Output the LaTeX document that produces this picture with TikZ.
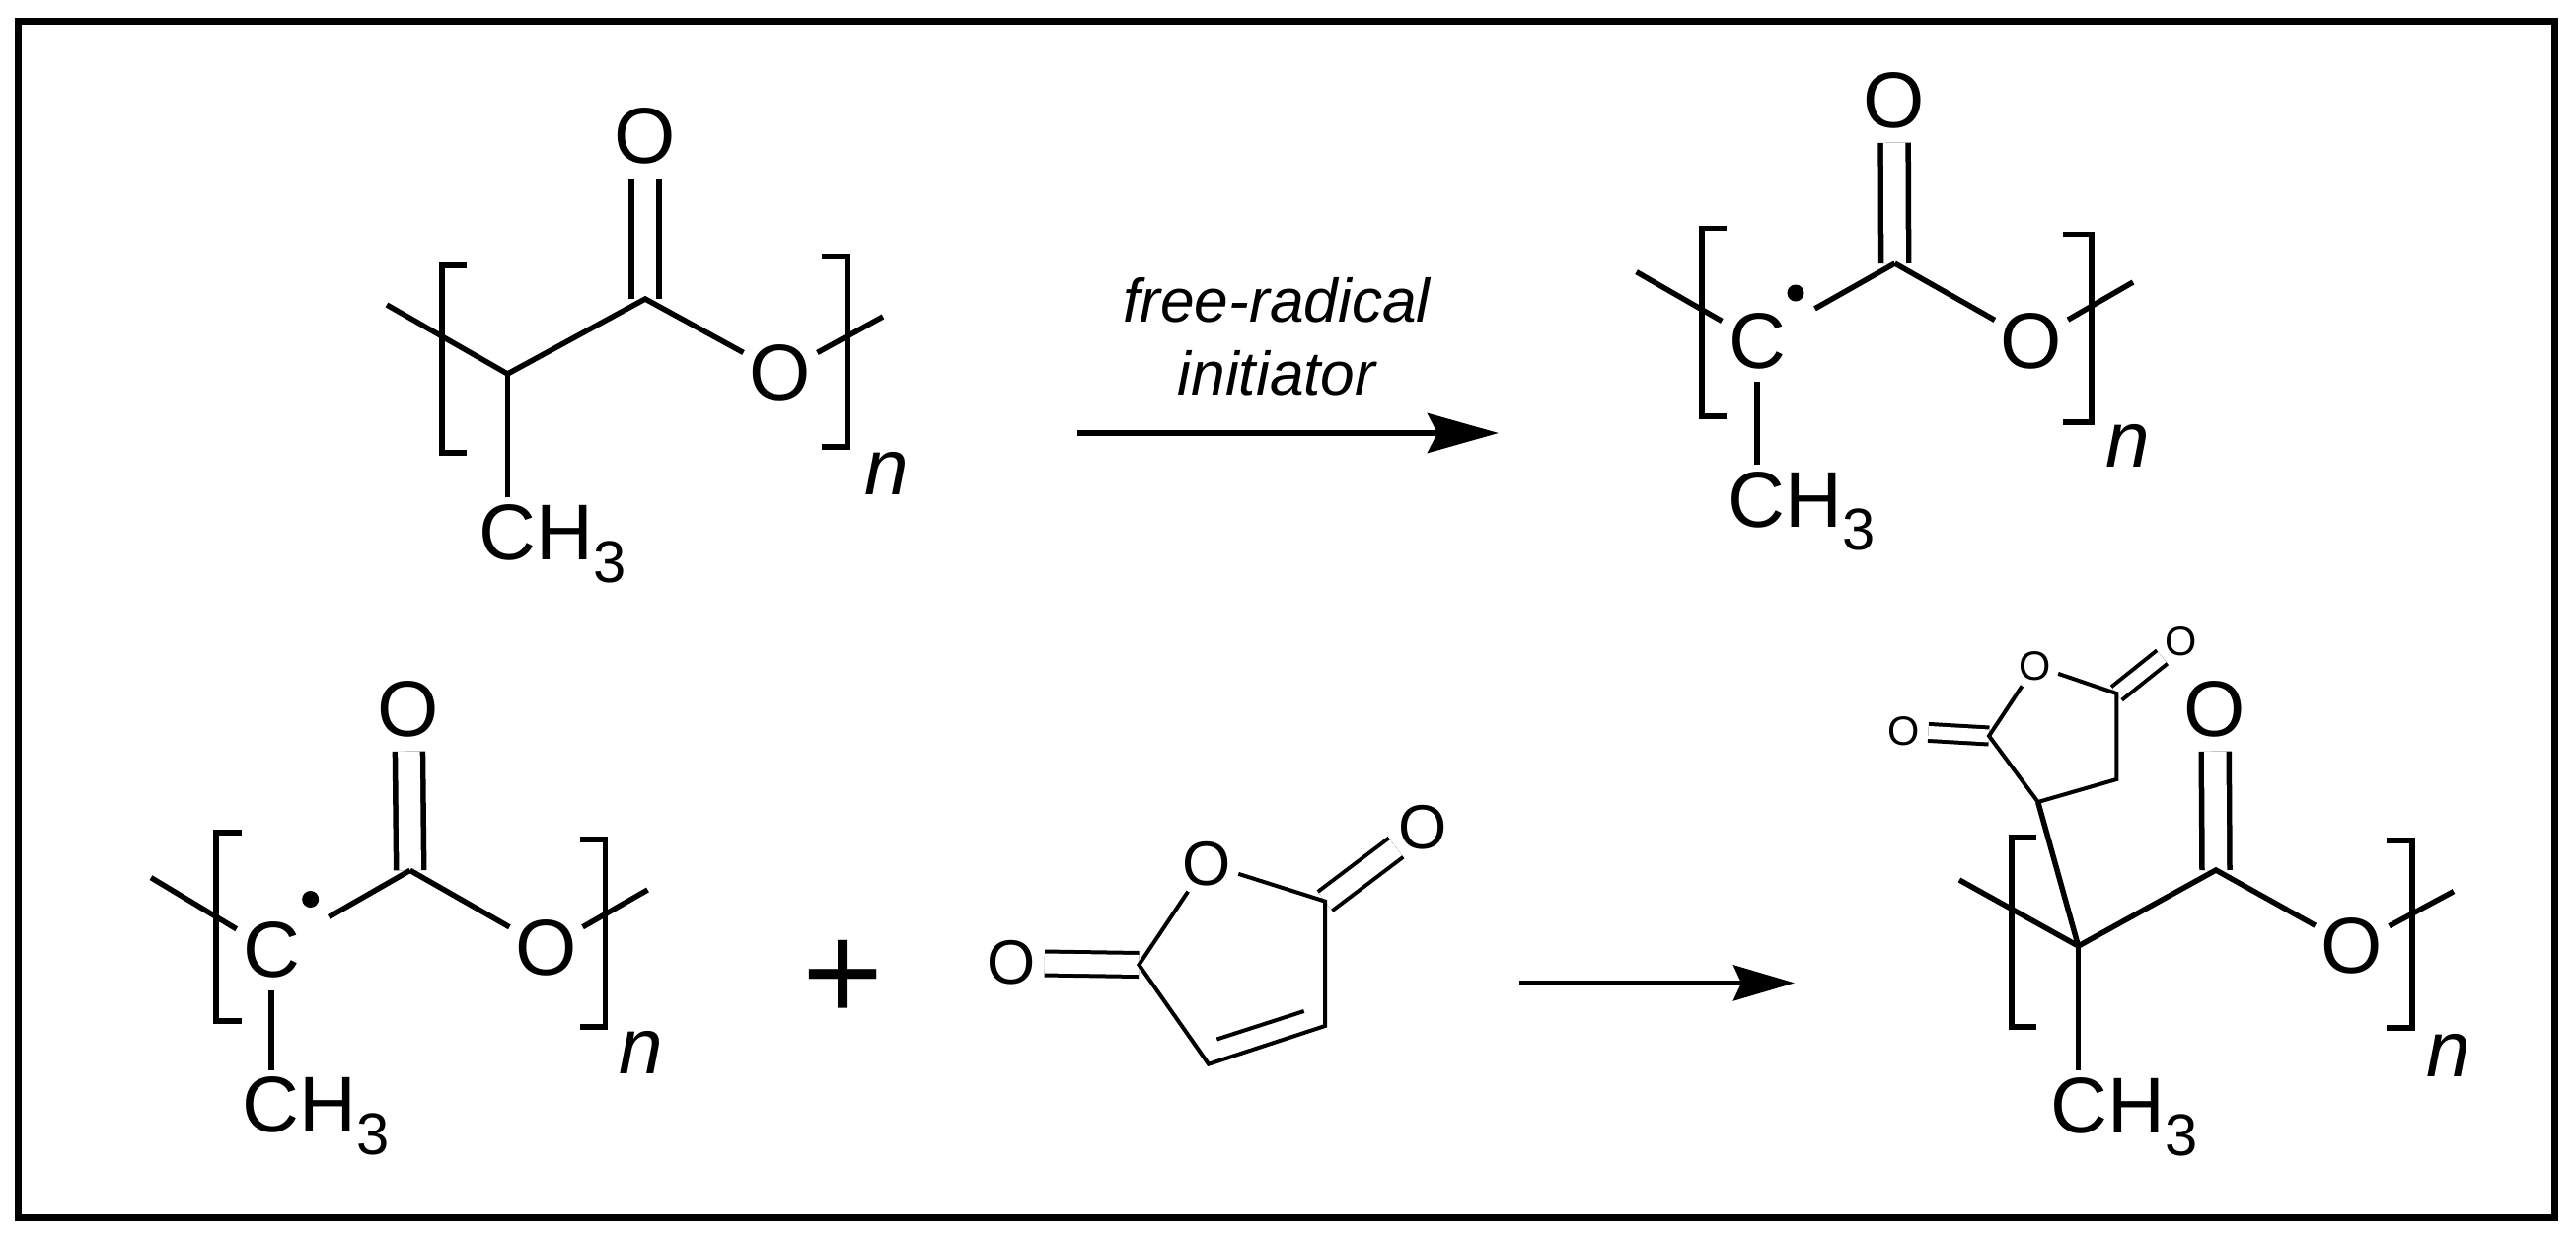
\documentclass[tikz,border=0pt]{standalone}
\usepackage{fontspec}
\setmainfont{Liberation Sans}
\usetikzlibrary{arrows.meta}
\newcommand{\methyl}{CH\raisebox{-.29em}{\fontsize{17}{17}\selectfont 3}}
\tikzset{
  bond/.style={line width=.055cm},
  thinbond/.style={line width=.04cm},
  dbond/.style={line width=.055cm, double, double distance=.225cm},
  thindbond/.style={line width=.04cm, double, double distance=.2cm},
  smalldbond/.style={line width=.04cm, double, double distance=.13cm},
  atom/.style={circle, inner sep=0pt, font=\fontsize{22.8}{24}\selectfont},
  midatom/.style={circle, inner sep=0pt, font=\fontsize{18}{20}\selectfont},
  smallatom/.style={circle, inner sep=.4pt, font=\fontsize{11.8}{13}\selectfont},
  methylgroup/.style={anchor=base west, inner sep=0pt, outer ysep=2pt, font=\fontsize{22.8}{24}\selectfont},
  repeat/.style={anchor=base, inner sep=0pt, font=\fontsize{22.8}{24}\selectfont\itshape},
  radical/.style={circle, fill=black, inner sep=0pt, minimum size=.17cm},
  reaction/.style={line width=.06cm, -{Stealth[length=.72cm, width=.4cm, inset=.1cm]}},
  reactionb/.style={line width=.05cm, -{Stealth[length=.62cm, width=.36cm, inset=.08cm]}}
}
\begin{document}
\begin{tikzpicture}[x=.01cm, y=-.01cm]
  \useasboundingbox (0,0) rectangle (2611,1257);
  \draw[line width=.07cm] (18.5,21) rectangle (2589.5,1234.5);

  % polymer, top left
  \node (o1) [atom] at (654,138) {O};
  \node (e1) [atom] at (791,378) {O};
  \node (m1) [methylgroup] at (485,567) {\methyl};
  \node (n1) [repeat] at (899,501) {n};
  \coordinate (co1) at (654,303);
  \coordinate (ch1) at (514.5,379);
  \coordinate (ta1) at (392,309);
  \coordinate (tb1) at (895,321);
  \draw[dbond] (co1) -- (o1);
  \draw[bond] (ta1) -- (ch1) -- (co1) -- (e1);
  \draw[bond] (ch1) -- (ch1 |- m1.north);
  \draw[bond] (e1) -- (tb1);
  \draw[bond] (473,269) -- (448,269) -- (448,459) -- (473,459);
  \draw[bond] (833,260) -- (859,260) -- (859,453) -- (833,453);

  % reaction arrow, top
  \coordinate (as1) at (1092,439);
  \coordinate (ae1) at (1519,439);
  \draw[reaction] (as1) -- (ae1);
  \node (init) [inner sep=0pt, align=center, font=\fontsize{17.7}{20.9}\selectfont\itshape] at (1294,341) {free-radical\\initiator};

  % radical, top right
  \node (o2) [atom] at (1920,102) {O};
  \node (e2) [atom] at (2059,345.5) {O};
  \node (c2) [atom] at (1781,346) {C};
  \node (m2) [methylgroup] at (1751,534) {\methyl};
  \node (n2) [repeat] at (2157,473) {n};
  \node (d2) [radical] at (1820,297) {};
  \coordinate (co2) at (1920.6,267);
  \coordinate (ta2) at (1658.6,275.6);
  \coordinate (tb2) at (2162,286);
  \draw[dbond] (co2) -- (o2);
  \draw[bond, shorten >=.26cm] (co2) -- (c2);
  \draw[bond] (co2) -- (e2);
  \draw[bond] (ta2) -- (c2);
  \draw[bond] (c2) -- (c2 |- m2.north);
  \draw[bond] (e2) -- (tb2);
  \draw[bond] (1750,231.5) -- (1725,231.5) -- (1725,422) -- (1750,422);
  \draw[bond] (2091,237.7) -- (2120,237.7) -- (2120,428) -- (2091,428);

  % radical, bottom left
  \node (o3) [atom] at (414,719) {O};
  \node (e3) [atom] at (553.5,961) {O};
  \node (c3) [atom] at (275,963) {C};
  \node (m3) [methylgroup] at (245,1147.6) {\methyl};
  \node (n3) [repeat] at (650,1088.6) {n};
  \node (d3) [radical] at (314.7,911.5) {};
  \coordinate (co3) at (415.7,882.3);
  \coordinate (ta3) at (153,889.6);
  \coordinate (tb3) at (656.5,902);
  \draw[dbond] (co3) -- (o3);
  \draw[bond, shorten >=.26cm] (co3) -- (c3);
  \draw[bond] (co3) -- (e3);
  \draw[bond] (ta3) -- (c3);
  \draw[bond] (c3) -- (c3 |- m3.north);
  \draw[bond] (e3) -- (tb3);
  \draw[bond] (245,844) -- (219,844) -- (219,1035) -- (245,1035);
  \draw[bond] (588,851) -- (613.7,851) -- (613.7,1041) -- (588,1041);

  \node (plus) [anchor=base, inner sep=0pt, font=\fontsize{40}{40}\selectfont] at (854.5,1034) {+};

  % maleic anhydride
  \node (ol) [midatom] at (1025,976) {O};
  \node (or) [midatom] at (1223,875.6) {O};
  \node (ot) [midatom] at (1442,838.7) {O};
  \coordinate (k1) at (1154.4,978);
  \coordinate (k2) at (1343,913.6);
  \coordinate (k3) at (1343,1040);
  \coordinate (k4) at (1225,1078.7);
  \coordinate (ia) at (1233.4,1053.5);
  \coordinate (ib) at (1321.7,1025);
  \draw[thindbond] (k1) -- (ol);
  \draw[thindbond] (k2) -- (ot);
  \draw[thinbond] (or) -- (k1) -- (k4) -- (k3) -- (k2) -- (or);
  \draw[thinbond] (ia) -- (ib);

  % reaction arrow, bottom
  \coordinate (as2) at (1540,996.4);
  \coordinate (ae2) at (1819,996.4);
  \draw[reactionb] (as2) -- (ae2);

  % grafted product, bottom right
  \node (o4) [atom] at (2245,719) {O};
  \node (e4) [atom] at (2384,959) {O};
  \node (m4) [methylgroup] at (2078,1148) {\methyl};
  \node (n4) [repeat] at (2482,1091) {n};
  \node (ol4) [smallatom] at (1930,741) {O};
  \node (or4) [smallatom] at (2063,675) {O};
  \node (ot4) [smallatom] at (2210.6,650.7) {O};
  \coordinate (co4) at (2246,882);
  \coordinate (q4) at (2106.5,959);
  \coordinate (ta4) at (1986,892);
  \coordinate (tb4) at (2487,903.6);
  \coordinate (s1) at (2016,746);
  \coordinate (s2) at (2145.3,703);
  \coordinate (s3) at (2145.3,790);
  \coordinate (s4) at (2065.7,813);
  \draw[dbond] (co4) -- (o4);
  \draw[smalldbond] (s1) -- (ol4);
  \draw[smalldbond] (s2) -- (ot4);
  \draw[bond] (ta4) -- (q4) -- (co4) -- (e4);
  \draw[bond] (q4) -- (q4 |- m4.north);
  \draw[bond] (e4) -- (tb4);
  \draw[bond] (q4) -- (s4);
  \draw[thinbond] (or4) -- (s1) -- (s4) -- (s3) -- (s2) -- (or4);
  \draw[bond] (2063.7,849) -- (2039,849) -- (2039,1041) -- (2063.7,1041);
  \draw[bond] (2418.8,851.8) -- (2445,851.8) -- (2445,1042) -- (2418.8,1042);
\end{tikzpicture}
\end{document}
